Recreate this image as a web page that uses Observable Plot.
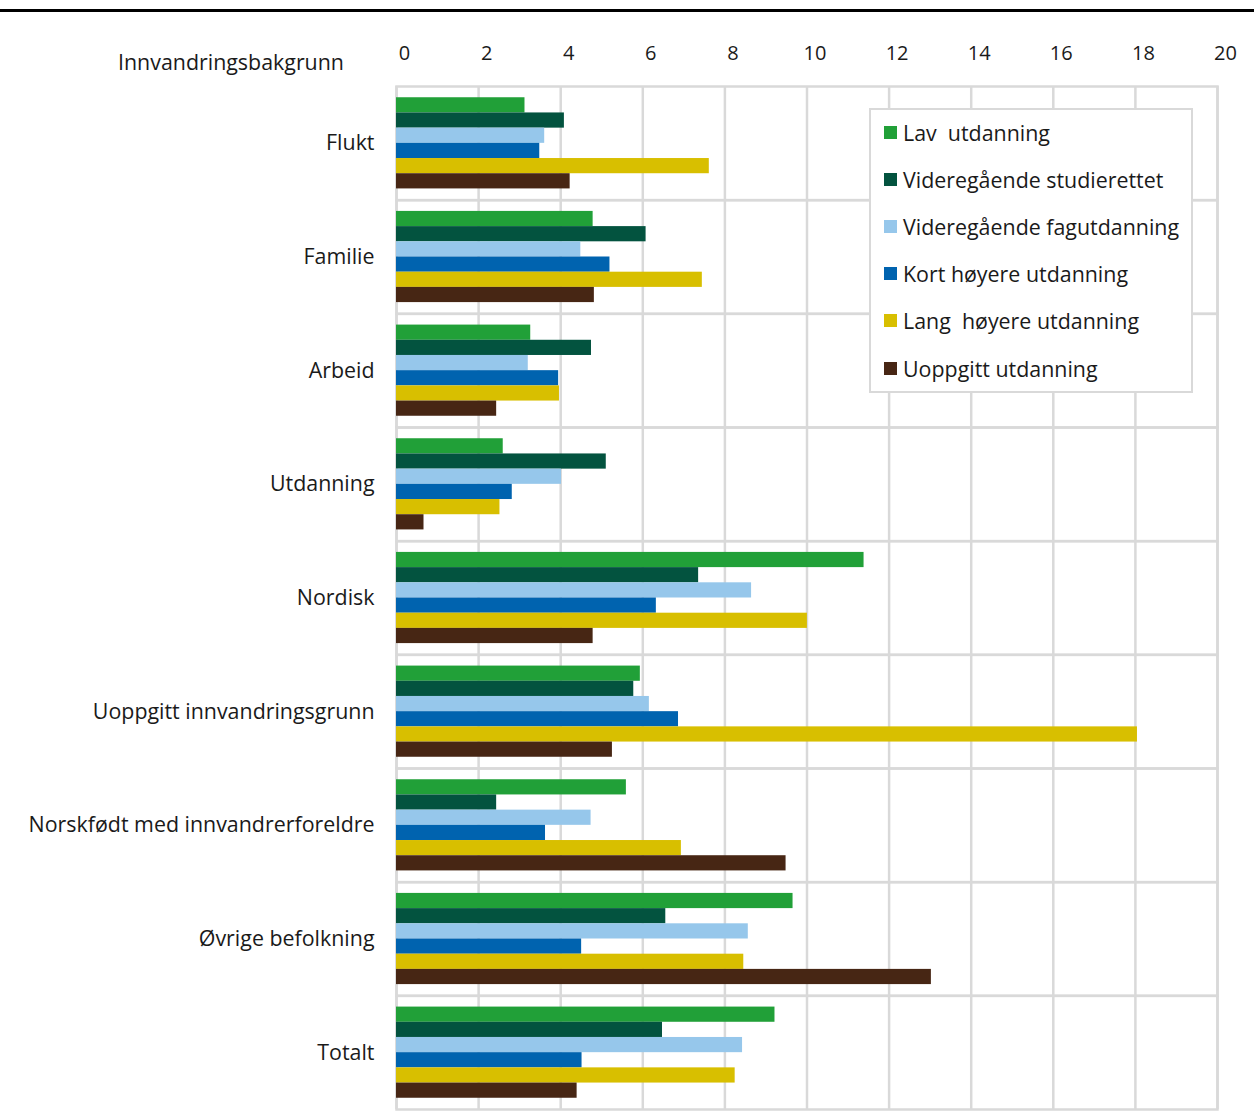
<!DOCTYPE html>
<html>
<head>
<meta charset="utf-8">
<script src="https://cdn.jsdelivr.net/npm/d3@7"></script>
<script src="https://cdn.jsdelivr.net/npm/@observablehq/plot@0.6"></script>
<style>
  html, body { margin: 0; padding: 0; background: #fff; }
  body { width: 1254px; height: 1113px; position: relative; overflow: hidden; font-family: "Open Sans", sans-serif; color: #1a1a1a; }
  #topline { position: absolute; left: 0; top: 9px; width: 1254px; height: 3px; background: #000; }
  #chart { position: absolute; left: 0; top: 0; }
  #ylabel { position: absolute; left: 118px; top: 47px; font-size: 21.4px; line-height: 30px; white-space: nowrap; }
  #legend { position: absolute; left: 869px; top: 108px; width: 320px; height: 281px; border: 2px solid #d9d9d9; background: #fff; }
  #legend .row { position: absolute; left: 13px; height: 28px; display: flex; align-items: center; font-size: 21.4px; white-space: pre; }
  #legend .sw { width: 13px; height: 13px; margin-right: 6px; flex: none; }
</style>
</head>
<body>
<div id="topline"></div>
<div id="chart"></div>
<div id="ylabel">Innvandringsbakgrunn</div>
<div id="legend"></div>
<script>
const categories = ["Flukt", "Familie", "Arbeid", "Utdanning", "Nordisk", "Uoppgitt innvandringsgrunn", "Norskfødt med innvandrerforeldre", "Øvrige befolkning", "Totalt"];
const seriesNames = ["Lav  utdanning", "Videregående studierettet", "Videregående fagutdanning", "Kort høyere utdanning", "Lang  høyere utdanning", "Uoppgitt utdanning"];
const seriesColors = ["#21a038", "#03533f", "#96c7eb", "#0063af", "#d8bf00", "#472614"];
const xTicks = [0, 2, 4, 6, 8, 10, 12, 14, 16, 18, 20];

const lavUtdanning        = [3.13, 4.79, 3.27, 2.60, 11.39, 5.94, 5.60, 9.66, 9.22];
const vgsStudierettet     = [4.09, 6.08, 4.75, 5.11, 7.36, 5.78, 2.44, 6.56, 6.48];
const vgsFagutdanning     = [3.61, 4.49, 3.21, 4.02, 8.65, 6.16, 4.74, 8.57, 8.43];
const kortHoyere          = [3.49, 5.20, 3.95, 2.82, 6.33, 6.87, 3.63, 4.51, 4.52];
const langHoyere          = [7.62, 7.45, 3.97, 2.52, 10.01, 18.05, 6.94, 8.46, 8.25];
const uoppgittUtdanning   = [4.23, 4.82, 2.44, 0.67, 4.79, 5.26, 9.49, 13.03, 4.40];

const seriesValues = [lavUtdanning, vgsStudierettet, vgsFagutdanning, kortHoyere, langHoyere, uoppgittUtdanning];

const data = [];
categories.forEach((c, i) => {
  seriesNames.forEach((s, j) => {
    data.push({cat: c, series: s, value: seriesValues[j][i]});
  });
});

const grid = "#d9d9d9";

const chart = Plot.plot({
  width: 1254,
  height: 1113,
  marginLeft: 396,
  marginRight: 37,
  marginTop: 86,
  marginBottom: 4,
  style: {fontFamily: "'Open Sans', sans-serif", fontSize: "20px", color: "#1a1a1a", background: "transparent"},
  x: {domain: [0, 20], axis: null},
  fy: {domain: categories, padding: 0, round: false, axis: null},
  y: {domain: seriesNames, paddingInner: 0, paddingOuter: 0.74, round: false, axis: null},
  color: {domain: seriesNames, range: seriesColors},
  marks: [
    Plot.gridX(xTicks, {stroke: grid, strokeWidth: 2.5, strokeOpacity: 1}),
    Plot.frame({stroke: grid, strokeWidth: 2.5}),
    Plot.barX(data, {x: "value", y: "series", fy: "cat", fill: "series"}),
    Plot.axisX({anchor: "top", ticks: xTicks, tickSize: 0, tickPadding: 27, dx: 8, label: null, fontSize: 20, fill: "#1a1a1a"}),
    Plot.axisFy({anchor: "left", tickSize: 0, tickPadding: 22, label: null, fontSize: 21.4, fill: "#1a1a1a"})
  ]
});
document.getElementById("chart").appendChild(chart);

const legend = document.getElementById("legend");
seriesNames.forEach((s, j) => {
  const row = document.createElement("div");
  row.className = "row";
  row.style.top = (8 + j * 47.2) + "px";
  const sw = document.createElement("div");
  sw.className = "sw";
  sw.style.background = seriesColors[j];
  const t = document.createElement("span");
  t.textContent = s;
  row.appendChild(sw);
  row.appendChild(t);
  legend.appendChild(row);
});
</script>
</body>
</html>
